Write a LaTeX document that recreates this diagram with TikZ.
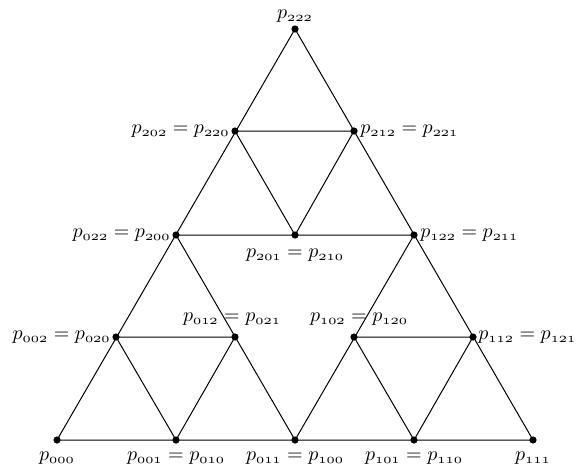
\documentclass[tikz,border=0pt]{standalone}
\usepackage{amsmath}
\begin{document}
\begin{tikzpicture}[x=0.5pt,y=-0.5pt,
  vtx/.style={circle,fill=black,inner sep=0pt,minimum size=3.6pt},
  edge/.style={draw=black,line width=0.5pt},
  lbl/.style={inner sep=1.5pt,font=\fontsize{10}{12}\selectfont}]
\useasboundingbox (0,0) rectangle (578,471);
\newcommand{\pp}[1]{$p_{\oldstylenums{#1}}$}
\newcommand{\pq}[2]{$p_{\oldstylenums{#1}} = p_{\oldstylenums{#2}}$}

% vertices of the level-2 Sierpinski triangle
\coordinate (a000) at (57,440);
\coordinate (a001) at (176,440);
\coordinate (a011) at (295,440);
\coordinate (a101) at (414,440);
\coordinate (a111) at (533,440);
\coordinate (a002) at (116,337);
\coordinate (a012) at (235,337);
\coordinate (a102) at (354,337);
\coordinate (a112) at (473,337);
\coordinate (a022) at (176,235);
\coordinate (a201) at (295,235);
\coordinate (a122) at (414,235);
\coordinate (a202) at (235,131);
\coordinate (a212) at (354,131);
\coordinate (a222) at (295,29);

% outer triangle
\draw[edge] (a000) -- (a111) -- (a222) -- cycle;
% level 1 midpoint triangle
\draw[edge] (a022) -- (a122) -- (a011) -- cycle;
% level 2 midpoint triangles
\draw[edge] (a202) -- (a212) -- (a201) -- cycle;
\draw[edge] (a002) -- (a012) -- (a001) -- cycle;
\draw[edge] (a102) -- (a112) -- (a101) -- cycle;

% dots
\foreach \v in {000,001,011,101,111,002,012,102,112,022,201,122,202,212,222}
  \node[vtx] (n\v) at (a\v) {};

% labels
\node[lbl,above=1.5pt] (l222) at (n222) {\pp{222}};
\node[lbl,left=1pt] (l202) at (n202) {\pq{202}{220}};
\node[lbl,right=1.5pt] (l212) at (n212) {\pq{212}{221}};
\node[lbl,left=1pt] (l022) at (n022) {\pq{022}{200}};
\node[lbl,below=5pt] (l201) at (n201) {\pq{201}{210}};
\node[lbl,right=1.5pt] (l122) at (n122) {\pq{122}{211}};
\node[lbl,left=1pt] (l002) at (n002) {\pq{002}{020}};
\node[lbl,anchor=south] (l012) at ([xshift=-1.5pt,yshift=2pt]n012.north) {\pq{012}{021}};
\node[lbl,anchor=south] (l102) at ([xshift=2.5pt,yshift=2pt]n102.north) {\pq{102}{120}};
\node[lbl,right=1pt] (l112) at (n112) {\pq{112}{121}};
\node[lbl,below=4pt] (l000) at (n000) {\pp{000}};
\node[lbl,below=4pt] (l001) at (n001) {\pq{001}{010}};
\node[lbl,below=4pt] (l011) at (n011) {\pq{011}{100}};
\node[lbl,below=4pt] (l101) at (n101) {\pq{101}{110}};
\node[lbl,below=4pt] (l111) at (n111) {\pp{111}};
\end{tikzpicture}
\end{document}
